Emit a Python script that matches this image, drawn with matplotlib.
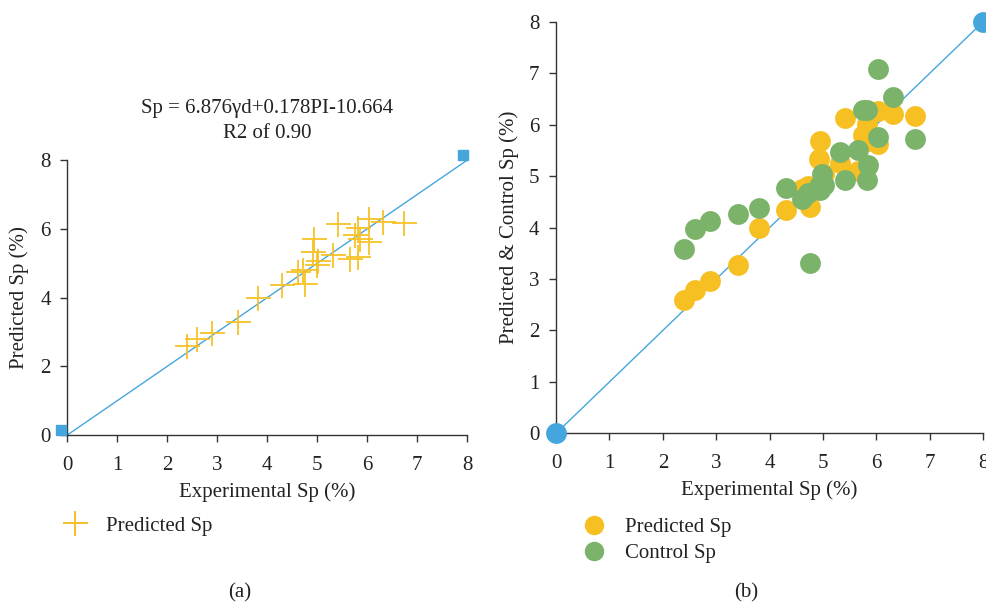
import matplotlib.pyplot as plt
from matplotlib.lines import Line2D

plt.rcParams['font.family'] = ['Liberation Serif', 'DejaVu Serif']

# experimental Sp (%) and the two model outputs
exp_sp = [2.40, 2.60, 2.89, 3.41, 3.81, 4.30, 4.61, 4.72, 4.75, 4.92, 4.94, 4.99,
          5.32, 5.42, 5.65, 5.82, 5.75, 5.85, 6.03, 6.04, 6.32, 6.73, 5.82, 5.02]
predicted_sp = [2.60, 2.78, 2.96, 3.28, 3.99, 4.35, 4.75, 4.80, 4.40, 5.33, 5.69, 4.94,
                5.25, 6.13, 5.11, 5.18, 5.81, 5.69, 5.62, 6.27, 6.20, 6.17, 6.01, 5.05]
control_sp = [3.58, 3.98, 4.13, 4.27, 4.38, 4.77, 4.55, 4.68, 3.32, 4.80, 4.73, 5.05,
              5.47, 4.93, 5.50, 4.92, 6.28, 5.21, 5.76, 7.09, 6.54, 5.73, 6.28, 4.83]

# 1:1 line end points
line_x = [0, 8]
line_y = [0, 8]
end_x_a = [-0.13, 7.91]
end_y_a = [0.15, 8.14]

yellow = '#F6C022'
green = '#7BB36A'
blue = '#45A6DD'
axis_col = '#333333'
txt_col = '#222222'

fig = plt.figure(figsize=(9.86, 6.05), dpi=100)
ax1 = fig.add_axes([0.0683, 0.281, 0.4057, 0.4545])
ax2 = fig.add_axes([0.564, 0.2838, 0.433, 0.680])

for ax in (ax1, ax2):
    ax.spines['top'].set_visible(False)
    ax.spines['right'].set_visible(False)
    for s in ('left', 'bottom'):
        ax.spines[s].set_color(axis_col)
        ax.spines[s].set_linewidth(1.0)
    ax.tick_params(direction='out', length=5, width=1, colors=axis_col,
                   labelsize=15, labelcolor=txt_col, pad=7)
    ax.tick_params(axis='x', pad=10)
    ax.set_xlim(0, 8)
    ax.set_ylim(0, 8)
    ax.set_xticks(range(0, 9))
    ax.set_xlabel('Experimental Sp (%)', fontsize=15, color=txt_col, labelpad=5)

# (a)
ax1.plot(line_x, line_y, color=blue, linewidth=1.0, zorder=2)
ax1.plot(end_x_a, end_y_a, 's', color=blue, markersize=7, clip_on=False, zorder=3)
ax1.plot(exp_sp, predicted_sp, '+', color=yellow, markersize=18, markeredgewidth=1.4,
         alpha=0.9, linestyle='none', zorder=4)
ax1.set_yticks(range(0, 9, 2))
ax1.set_ylabel('Predicted Sp (%)', fontsize=15, color=txt_col, labelpad=8)
ax1.text(4.0, 9.13, 'Sp = 6.876\u03b3d+0.178PI-10.664\nR2 of 0.90', ha='center', va='center',
         fontsize=15, color=txt_col, linespacing=1.45)

# (b)
ax2.plot(line_x, line_y, color=blue, linewidth=1.0, zorder=2)
ax2.plot(exp_sp, predicted_sp, 'o', color=yellow, markersize=15, markeredgewidth=0,
         linestyle='none', zorder=3)
ax2.plot(exp_sp, control_sp, 'o', color=green, markersize=15, markeredgewidth=0,
         linestyle='none', zorder=4)
ax2.plot(line_x, line_y, 'o', color=blue, markersize=15, markeredgewidth=0,
         clip_on=False, zorder=5)
ax2.set_yticks(range(0, 9))
ax2.set_ylabel('Predicted & Control Sp (%)', fontsize=15, color=txt_col, labelpad=7)

# legends
h_a = [Line2D([], [], marker='+', color=yellow, linestyle='none', markersize=18,
              markeredgewidth=1.4)]
fig.legend(h_a, ['Predicted Sp'], loc='upper left', bbox_to_anchor=(0.036, 0.178),
           frameon=False, fontsize=15, handletextpad=0.5, labelcolor=txt_col)
h_b = [Line2D([], [], marker='o', color=yellow, linestyle='none', markersize=13),
       Line2D([], [], marker='o', color=green, linestyle='none', markersize=13)]
fig.legend(h_b, ['Predicted Sp', 'Control Sp'], loc='upper left',
           bbox_to_anchor=(0.562, 0.175), frameon=False, fontsize=15,
           handletextpad=0.5, labelspacing=0.3, labelcolor=txt_col)

fig.text(0.243, 0.012, '(a)', ha='center', fontsize=15, color=txt_col)
fig.text(0.757, 0.012, '(b)', ha='center', fontsize=15, color=txt_col)

fig.savefig('out.png', dpi=100)
